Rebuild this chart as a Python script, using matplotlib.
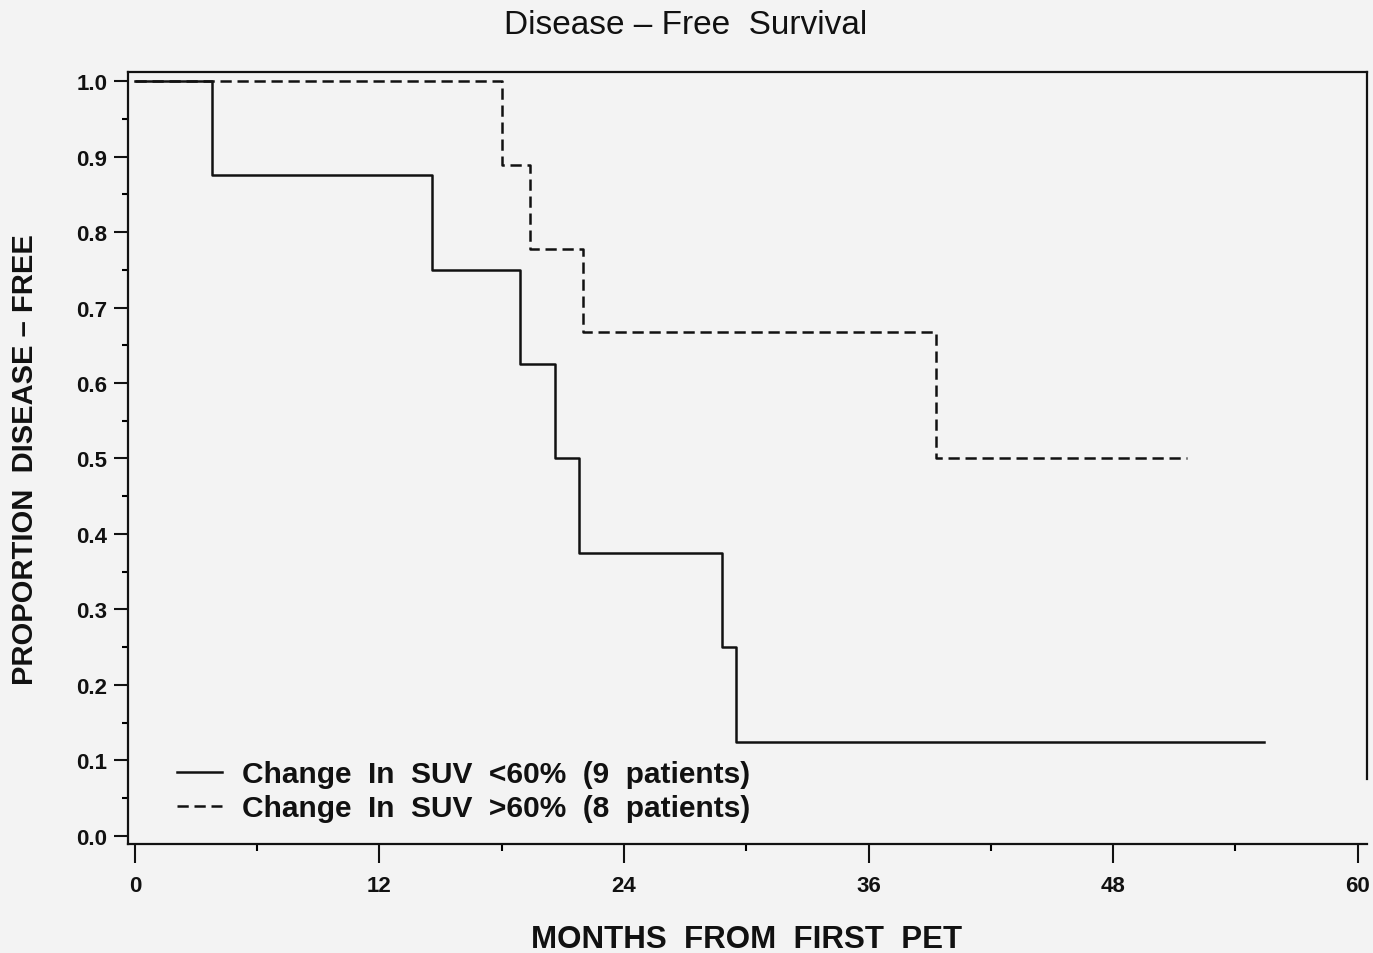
import matplotlib
matplotlib.use("Agg")
import matplotlib.pyplot as plt
from matplotlib.ticker import MultipleLocator

# Kaplan-Meier steps (months, proportion disease-free)
low_months = [0, 3.8, 14.6, 18.9, 20.6, 21.8, 28.8, 29.5, 55.4]
low_surv = [1.0, 0.875, 0.75, 0.625, 0.5, 0.375, 0.25, 0.125, 0.125]
high_months = [0, 18.0, 19.4, 22.0, 39.3, 51.6]
high_surv = [1.0, 0.889, 0.778, 0.667, 0.5, 0.5]

labels = ["Change  In  SUV  <60%  (9  patients)",
          "Change  In  SUV  >60%  (8  patients)"]
x_ticks = [0, 12, 24, 36, 48, 60]
y_ticks = [0.0, 0.1, 0.2, 0.3, 0.4, 0.5, 0.6, 0.7, 0.8, 0.9, 1.0]

bg = "#f3f3f3"
ink = "#111111"
plt.rcParams['font.family'] = ['Liberation Sans', 'DejaVu Sans']

fig = plt.figure(figsize=(13.73, 9.54), dpi=100, facecolor=bg)
ax = fig.add_axes([0.0932, 0.1143, 0.9024, 0.8092])
ax.set_facecolor(bg)

ax.step(high_months, high_surv, where="post", color=ink, lw=1.8,
        linestyle=(0, (4.5, 2.3)), label=labels[1])
ax.step(low_months, low_surv, where="post", color=ink, lw=1.8,
        label=labels[0])

ax.set_xlim(-0.34, 60.45)
ax.set_ylim(-0.0106, 1.012)

for s in ax.spines.values():
    s.set_linewidth(1.6)
    s.set_color(ink)
ax.spines["right"].set_bounds(0.075, 1.012)

ax.xaxis.set_minor_locator(MultipleLocator(6))
ax.yaxis.set_minor_locator(MultipleLocator(0.05))
ax.set_xticks(x_ticks)
ax.set_yticks(y_ticks)
ax.set_xticklabels([str(t) for t in x_ticks])
ax.set_yticklabels([f"{t:.1f}" for t in y_ticks])

ax.tick_params(axis="x", which="major", direction="out", length=14, width=1.5,
               pad=8, labelsize=16, colors=ink)
ax.tick_params(axis="x", which="minor", direction="out", length=5, width=1.5)
ax.tick_params(axis="y", which="major", direction="out", length=10, width=1.5,
               pad=5, labelsize=16, colors=ink)
ax.tick_params(axis="y", which="minor", direction="out", length=4, width=1.5)
for lab in ax.get_xticklabels() + ax.get_yticklabels():
    lab.set_fontweight("bold")

fig.text(747 / 1373, 1 - 940 / 954, "MONTHS  FROM  FIRST  PET", ha="center",
         va="center", fontsize=22.5, fontweight="bold", color=ink)
fig.text(25 / 1373, 1 - 460 / 954, "PROPORTION  DISEASE – FREE", ha="center",
         va="center", rotation=90, fontsize=21, fontweight="bold", color=ink)
fig.text(686 / 1373, 1 - 25 / 954, "Disease – Free  Survival", ha="center",
         va="center", fontsize=24, color=ink)

handles, labs = ax.get_legend_handles_labels()
leg = ax.legend(handles[::-1], labs[::-1], loc="lower left",
                bbox_to_anchor=(0.0395, 0.028), frameon=False, borderpad=0,
                borderaxespad=0, handlelength=1.5, handletextpad=0.68,
                labelspacing=0.2, prop={"size": 21.5, "weight": "bold"})
for t in leg.get_texts():
    t.set_color(ink)

fig.savefig("out.png", dpi=100, facecolor=bg)
